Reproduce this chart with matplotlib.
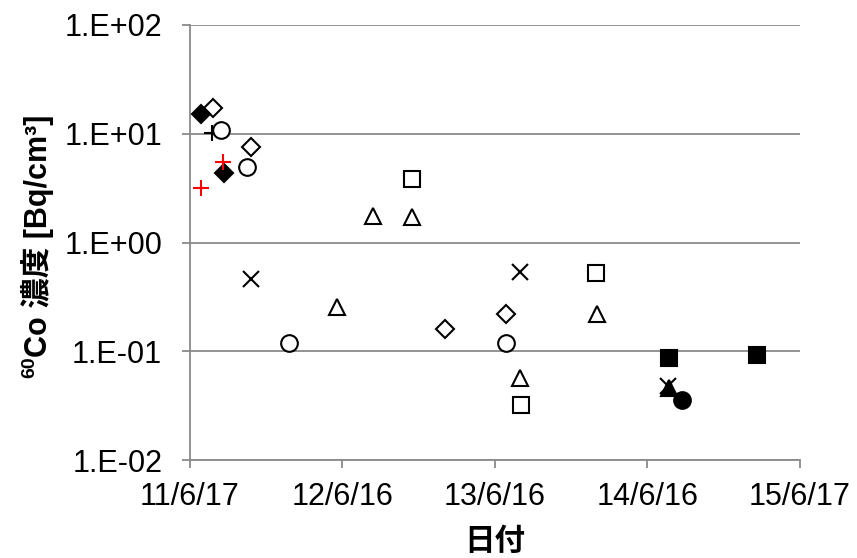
import matplotlib
matplotlib.use("Agg")
import matplotlib.pyplot as plt
import matplotlib.ticker as mticker
import numpy as np
import pandas as pd

# ---- data ----
filled_diamond_dates = ["2011-07-13", "2011-09-06"]
filled_diamond_vals = [15.2, 4.4]

open_diamond_dates = ["2011-08-11", "2011-11-10", "2013-02-16", "2013-07-12"]
open_diamond_vals = [17.3, 7.5, 0.16, 0.22]

open_circle_dates = ["2011-08-30", "2011-10-31", "2012-02-09", "2013-07-12"]
open_circle_vals = [10.8, 4.95, 0.12, 0.12]

black_plus_dates = ["2011-08-09"]
black_plus_vals = [10.2]

red_plus_dates = ["2011-07-13", "2011-09-04"]
red_plus_vals = [3.2, 5.5]

cross_dates = ["2011-11-10", "2013-08-15", "2014-08-05"]
cross_vals = [0.46, 0.54, 0.048]

open_triangle_dates = ["2012-06-03", "2012-08-28", "2012-11-30", "2013-08-15", "2014-02-16"]
open_triangle_vals = [0.255, 1.75, 1.71, 0.057, 0.22]

open_square_dates = ["2012-11-30", "2013-08-17", "2014-02-13"]
open_square_vals = [3.84, 0.032, 0.525]

filled_square_dates = ["2014-08-07", "2015-03-06"]
filled_square_vals = [0.087, 0.092]

filled_triangle_dates = ["2014-08-07"]
filled_triangle_vals = [0.046]

filled_circle_dates = ["2014-09-07"]
filled_circle_vals = [0.0355]

x_tick_dates = ["2011-06-17", "2012-06-16", "2013-06-16", "2014-06-16", "2015-06-17"]
x_tick_labels = ["11/6/17", "12/6/16", "13/6/16", "14/6/16", "15/6/17"]
y_ticks = [0.01, 0.1, 1, 10, 100]

# ---- plotting ----
plt.rcParams['font.family'] = ['Liberation Sans', 'Noto Sans CJK JP', 'DejaVu Sans']

fig = plt.figure(figsize=(8.57, 5.58), dpi=100)
ax = fig.add_axes([190/857, 1-460/558, 610/857, 435/558])

def d(lst):
    return pd.to_datetime(lst)

lw = 1.5
ms = 12
ax.plot(d(open_diamond_dates), open_diamond_vals, 'D', ms=9, mfc='white', mec='black', mew=lw, ls='none', zorder=3)
ax.plot(d(filled_diamond_dates), filled_diamond_vals, 'D', ms=9, mfc='black', mec='black', mew=lw, ls='none', zorder=4)
ax.plot(d(open_circle_dates), open_circle_vals, 'o', ms=ms, mfc='white', mec='black', mew=lw, ls='none', zorder=3)
ax.plot(d(black_plus_dates), black_plus_vals, '+', ms=ms, mec='black', mew=lw, ls='none', zorder=2)
ax.plot(d(red_plus_dates), red_plus_vals, '+', ms=ms, mec='red', mew=lw, ls='none', zorder=5)
ax.plot(d(cross_dates), cross_vals, 'x', ms=11, mec='black', mew=lw, ls='none', zorder=3)
ax.plot(d(open_triangle_dates), open_triangle_vals, '^', ms=ms, mfc='white', mec='black', mew=lw, ls='none', zorder=3)
ax.plot(d(open_square_dates), open_square_vals, 's', ms=11.5, mfc='white', mec='black', mew=lw, ls='none', zorder=3)
ax.plot(d(filled_square_dates), filled_square_vals, 's', ms=11.5, mfc='black', mec='black', mew=lw, ls='none', zorder=3)
ax.plot(d(filled_triangle_dates), filled_triangle_vals, '^', ms=ms, mfc='black', mec='black', mew=lw, ls='none', zorder=3)
ax.plot(d(filled_circle_dates), filled_circle_vals, 'o', ms=ms, mfc='black', mec='black', mew=lw, ls='none', zorder=3)

ax.set_yscale('log')
ax.set_ylim(0.01, 100)
ax.set_xlim(pd.Timestamp(x_tick_dates[0]), pd.Timestamp(x_tick_dates[-1]))

ax.set_yticks(y_ticks)
ax.yaxis.set_major_formatter(mticker.FuncFormatter(lambda v, p: "1.E%+03d" % int(round(np.log10(v)))))
ax.yaxis.set_minor_locator(mticker.NullLocator())
ax.set_xticks(d(x_tick_dates))
ax.set_xticklabels(x_tick_labels)

gray = '#8a8a8a'
for s in ['top', 'right']:
    ax.spines[s].set_visible(False)
for s in ['left', 'bottom']:
    ax.spines[s].set_color(gray)
    ax.spines[s].set_linewidth(1.3)
ax.grid(axis='y', color=gray, lw=1.3)
ax.set_axisbelow(True)
ax.tick_params(axis='both', colors=gray, length=6, width=1.3, labelcolor='black', labelsize=22)
ax.tick_params(axis='y', pad=14)
ax.tick_params(axis='x', pad=9.5)

ax.set_ylabel("Co 濃度 [Bq/cm³]", fontsize=22, fontweight='bold')
ax.yaxis.set_label_coords(-0.223, 0.516)
ax.set_xlabel("日付", fontsize=22, fontweight='bold', labelpad=11)

# superscript "60" placed before the rotated y label
fig.canvas.draw()
bb = ax.yaxis.label.get_window_extent()
W, H = fig.get_size_inches() * fig.dpi
fig.text(bb.x0 / W, bb.y0 / H, "60", rotation=90, fontsize=14, fontweight='bold',
         ha='left', va='top')

fig.savefig("out.png", dpi=100)
